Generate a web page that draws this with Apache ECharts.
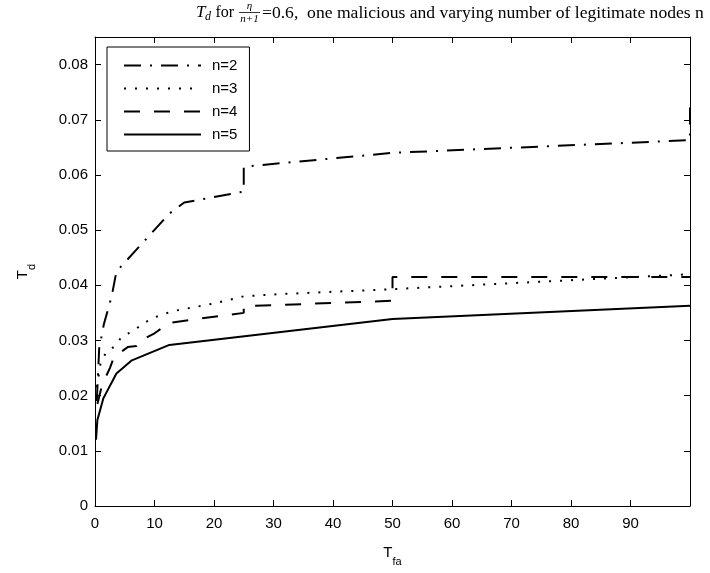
<!DOCTYPE html>
<html>
<head>
<meta charset="utf-8">
<script src="https://cdn.jsdelivr.net/npm/echarts@6/dist/echarts.min.js"></script>
<style>
  html, body { margin: 0; padding: 0; background: #fff; }
  #chart { width: 710px; height: 573px; }
</style>
</head>
<body>
<div id="chart"></div>
<script>
// Detection threshold T_d against false-alarm time T_fa, one series per legitimate-node count
const seriesNames = ['n=2', 'n=3', 'n=4', 'n=5'];

const tdN2 = [[0.3,0.019],[0.7,0.0285],[1.5,0.033],[2.8,0.038],[3.6,0.0425],[7,0.0465],[12.5,0.053],[15,0.055],[25,0.057],[25,0.0615],[50,0.064],[100,0.0663],[100,0.0733]];
const tdN3 = [[0.3,0.0215],[1,0.0263],[2,0.028],[3.4,0.029],[4.5,0.0307],[6.2,0.0316],[7.8,0.0328],[9.5,0.034],[13,0.0353],[20,0.0367],[25,0.038],[31,0.0384],[50,0.0393],[50,0.0396],[100,0.042]];
const tdN4 = [[0.4,0.0185],[1.2,0.022],[2.5,0.025],[3.2,0.027],[5.5,0.0288],[7,0.029],[7.2,0.0297],[10,0.0313],[12.5,0.0332],[20,0.0343],[25,0.035],[25,0.0362],[50,0.0372],[50,0.0415],[100,0.0415]];
const tdN5 = [[0.17,0.012],[0.4,0.0156],[1.4,0.0195],[3.6,0.024],[6.2,0.0264],[12.5,0.0292],[50,0.0339],[100,0.0363]];

const xMin = 0, xMax = 100, xStep = 10;
const yMin = 0, yMax = 0.085, yStep = 0.01;

const sans = '"Liberation Sans", Arial, Helvetica, sans-serif';
const serif = '"Liberation Serif", "Times New Roman", serif';

// line dash patterns: dash-dot, dotted, dashed, solid
const dashes = [[17, 9, 2, 9], [2, 9], [16, 14], 'solid'];
const dataSets = [tdN2, tdN3, tdN4, tdN5];

const frameAxis = (extra) => Object.assign({
  type: 'value',
  axisLine: { show: true, onZero: false, lineStyle: { color: '#000', width: 1 } },
  axisTick: { show: true, inside: true, length: 6, lineStyle: { color: '#000', width: 1 } },
  splitLine: { show: false }
}, extra);

const chart = echarts.init(document.getElementById('chart'), null, { renderer: 'canvas' });

chart.setOption({
  animation: false,
  backgroundColor: '#fff',
  grid: { left: 95, right: 20, top: 37, bottom: 67, containLabel: false },
  xAxis: [
    frameAxis({
      min: xMin, max: xMax, interval: xStep, position: 'bottom',
      axisLabel: { color: '#000', fontFamily: sans, fontSize: 15, margin: 10, showMaxLabel: false },
      name: '{t|T}{s|fa}', nameLocation: 'middle', nameGap: 32,
      nameTextStyle: {
        color: '#000', fontFamily: sans,
        rich: { t: { fontSize: 15, fontFamily: sans, color: '#000' },
                s: { fontSize: 11, fontFamily: sans, color: '#000', padding: [18, 0, 0, 0] } }
      }
    }),
    frameAxis({ min: xMin, max: xMax, interval: xStep, position: 'top', axisLabel: { show: false } })
  ],
  yAxis: [
    frameAxis({
      min: yMin, max: yMax, interval: yStep, position: 'left',
      axisLabel: {
        color: '#000', fontFamily: sans, fontSize: 15, margin: 7, showMaxLabel: false,
        formatter: v => (v === 0 ? '0' : v.toFixed(2))
      },
      name: '{t|T}{s|d}', nameLocation: 'middle', nameGap: 58,
      nameTextStyle: {
        color: '#000', fontFamily: sans,
        rich: { t: { fontSize: 15, fontFamily: sans, color: '#000' },
                s: { fontSize: 11, fontFamily: sans, color: '#000', padding: [18, 0, 0, 0] } }
      }
    }),
    frameAxis({ min: yMin, max: yMax, interval: yStep, position: 'right', axisLabel: { show: false } })
  ],
  legend: {
    orient: 'vertical', left: 107, top: 47,
    borderColor: '#000', borderWidth: 1, borderRadius: 0,
    backgroundColor: '#fff',
    padding: [11, 12, 9, 16],
    itemWidth: 77, itemHeight: 14, itemGap: 8,
    itemStyle: { opacity: 0 },
    textStyle: { color: '#000', fontFamily: sans, fontSize: 15, padding: [0, 0, 0, 6] },
    data: seriesNames
  },
  series: seriesNames.map((name, i) => ({
    name, type: 'line', data: dataSets[i],
    xAxisIndex: 0, yAxisIndex: 0,
    symbol: 'none', showSymbol: false,
    lineStyle: { color: '#000', width: 2, type: dashes[i] },
    itemStyle: { color: '#000' },
    emphasis: { disabled: true }
  })),
  graphic: [
    { type: 'text', x: 196, y: 13, style: { text: 'T', font: 'italic 17px ' + serif, fill: '#000', textVerticalAlign: 'middle' } },
    { type: 'text', x: 205, y: 17, style: { text: 'd', font: 'italic 12px ' + serif, fill: '#000', textVerticalAlign: 'middle' } },
    { type: 'text', x: 215.5, y: 13, style: { text: 'for', font: '16px ' + serif, fill: '#000', textVerticalAlign: 'middle' } },
    { type: 'text', x: 249.5, y: 6, style: { text: 'η', font: 'italic 11px ' + serif, fill: '#000', textAlign: 'center', textVerticalAlign: 'middle' } },
    { type: 'line', shape: { x1: 239, y1: 12.5, x2: 260, y2: 12.5 }, style: { stroke: '#000', lineWidth: 0.8 } },
    { type: 'text', x: 249.5, y: 19, style: { text: 'n+1', font: 'italic 11px ' + serif, fill: '#000', textAlign: 'center', textVerticalAlign: 'middle' } },
    { type: 'text', x: 262, y: 13, style: { text: '=0.6,  one malicious and varying number of legitimate nodes n', font: '17.6px ' + serif, fill: '#000', textVerticalAlign: 'middle' } }
  ]
});
</script>
</body>
</html>
